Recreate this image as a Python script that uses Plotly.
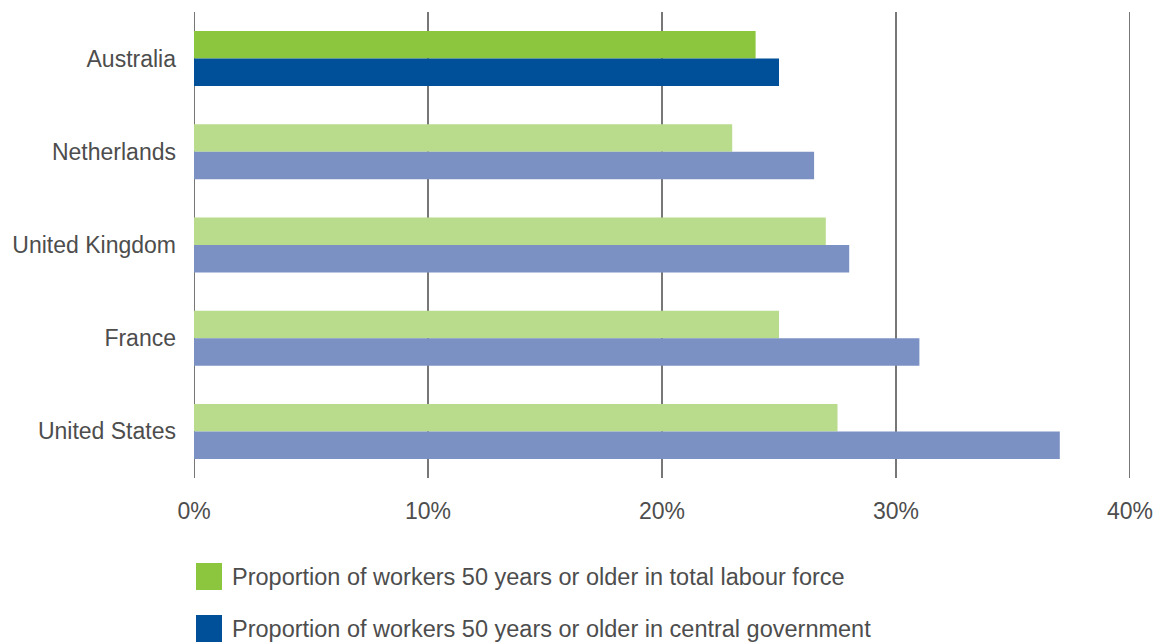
import plotly.graph_objects as go

countries = ["Australia", "Netherlands", "United Kingdom", "France", "United States"]
labour_force = [24, 23, 27, 25, 27.5]
central_gov = [25, 26.5, 28, 31, 37]
x_ticks = [0, 10, 20, 30, 40]
x_tick_labels = ["0%", "10%", "20%", "30%", "40%"]
legend_labels = [
    "Proportion of workers 50 years or older in total labour force",
    "Proportion of workers 50 years or older in central government",
]

GREEN_DARK, GREEN_LIGHT = "#8cc63f", "#b9db8c"
BLUE_DARK, BLUE_LIGHT = "#004f99", "#7b91c4"
GRID = "#777777"
FONT = "Liberation Sans"
TEXT = "#4d4d4d"

# plot area in pixels
PL, PR, PT, PB = 194, 1130, 12, 478
PW, PH = PR - PL, PB - PT

def highlight(dark, light):
    return [dark if c == "Australia" else light for c in countries]

fig = go.Figure()
fig.add_trace(go.Bar(
    y=countries, x=labour_force, orientation="h", name=legend_labels[0],
    marker=dict(color=highlight(GREEN_DARK, GREEN_LIGHT), line=dict(width=0)),
))
fig.add_trace(go.Bar(
    y=countries, x=central_gov, orientation="h", name=legend_labels[1],
    marker=dict(color=highlight(BLUE_DARK, BLUE_LIGHT), line=dict(width=0)),
))

fig.update_layout(
    width=1159, height=642,
    margin=dict(l=PL, r=1159 - PR, t=PT, b=642 - PB),
    paper_bgcolor="white", plot_bgcolor="white",
    barmode="group", bargap=0.41, bargroupgap=0,
    showlegend=False,
    font=dict(family=FONT, size=23, color=TEXT),
    xaxis=dict(
        range=[0, 40], tickvals=x_ticks, ticktext=x_tick_labels,
        showgrid=True, gridcolor=GRID, gridwidth=2, automargin=False,
        zeroline=False, showline=False, ticks="", ticklabelstandoff=17,
        tickfont=dict(size=23, color=TEXT),
    ),
    yaxis=dict(
        autorange="reversed", showgrid=False, zeroline=False, automargin=False,
        showline=False, ticks="", ticklabelstandoff=17,
        tickfont=dict(size=23, color=TEXT),
    ),
)

# gridlines on the two outer ticks (the plot edges)
for xv in (x_ticks[0], x_ticks[-1]):
    fig.add_shape(
        type="line", xref="x", yref="paper", x0=xv, x1=xv, y0=0, y1=1,
        line=dict(color=GRID, width=2), layer="below",
    )

# Legend: colour squares with their captions below the plot
legend_rows = [(GREEN_DARK, legend_labels[0], 563), (BLUE_DARK, legend_labels[1], 615)]
for color, label, top in legend_rows:
    fig.add_shape(
        type="rect", xref="paper", yref="paper",
        x0=(196 - PL) / PW, x1=(222 - PL) / PW,
        y0=(PB - top - 27) / PH, y1=(PB - top) / PH,
        fillcolor=color, line=dict(width=0),
    )
    fig.add_annotation(
        xref="paper", yref="paper", x=(230 - PL) / PW, y=(PB - top - 13.5) / PH,
        text=label, showarrow=False, xanchor="left", yanchor="middle",
        font=dict(family=FONT, size=23.5, color=TEXT),
    )

fig.write_html("out.html")
